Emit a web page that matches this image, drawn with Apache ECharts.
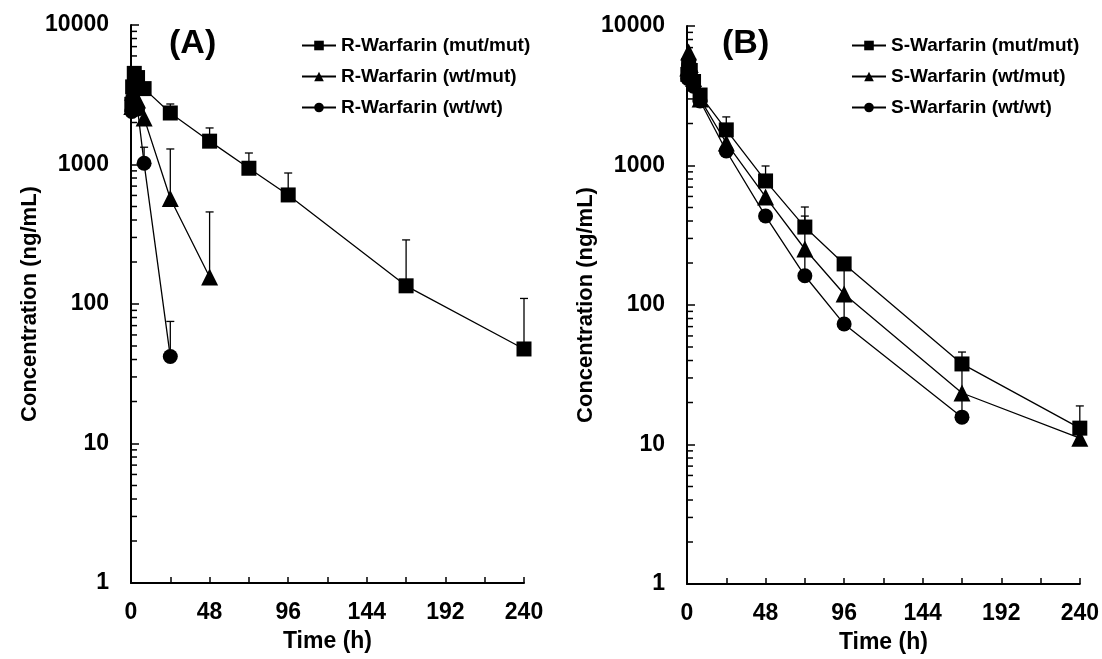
<!DOCTYPE html>
<html>
<head>
<meta charset="utf-8">
<script src="https://cdn.jsdelivr.net/npm/echarts@6/dist/echarts.min.js"></script>
<style>
  html, body { margin: 0; padding: 0; background: #fff; }
  #main { width: 1102px; height: 659px; }
</style>
</head>
<body>
<div id="main"></div>
<script>
// time points (h) and mean concentrations (ng/mL), upper SD for error bars
var rTimeMutMut = [0.5, 1, 2, 4, 8, 24, 48, 72, 96, 168, 240];
var rMutMut     = [2700, 3600, 4500, 4200, 3500, 2340, 1470, 940, 605, 135, 47.6];
var rMutMutSd   = [0, 0, 0, 0, 0, 375, 358, 269, 264, 153, 62];

var rTimeWtMut = [0.5, 1, 2, 4, 8, 24, 48];
var rWtMut     = [2600, 3300, 3900, 2900, 2150, 570, 156];
var rWtMutSd   = [0, 0, 0, 0, 0, 722, 301];

var rTimeWtWt = [0.5, 1, 2, 4, 8, 24];
var rWtWt     = [2400, 3000, 3400, 2500, 1020, 42];
var rWtWtSd   = [0, 0, 0, 0, 310, 33];

var sTimeMutMut = [0.5, 1, 2, 4, 8, 24, 48, 72, 96, 168, 240];
var sMutMut     = [4500, 5200, 4800, 4000, 3200, 1800, 775, 362, 197, 37.8, 13.1];
var sMutMutSd   = [0, 0, 0, 0, 0, 430, 217, 142, 0, 8.2, 5.8];

var sTimeWtMut = [0.5, 1, 2, 4, 8, 24, 48, 72, 96, 168, 240];
var sWtMut     = [5000, 6500, 5300, 4200, 3000, 1450, 595, 252, 120, 23.4, 11.1];
var sWtMutSd   = [0, 0, 0, 0, 0, 0, 0, 182, 70, 14, 0];

var sTimeWtWt = [0.5, 1, 2, 4, 8, 24, 48, 72, 96, 168];
var sWtWt     = [4200, 5200, 4600, 3700, 2900, 1270, 434, 162, 73, 15.7];
var sWtWtSd   = [0, 0, 0, 0, 0, 0, 0, 70, 40, 7];

var xTicks = [0, 48, 96, 144, 192, 240];
var yMinorTicks = [2, 3, 4, 5, 6, 7, 8, 9, 20, 30, 40, 50, 60, 70, 80, 90,
  200, 300, 400, 500, 600, 700, 800, 900, 2000, 3000, 4000, 5000, 6000, 7000, 8000, 9000];

var namesA = ['R-Warfarin (mut/mut)', 'R-Warfarin (wt/mut)', 'R-Warfarin (wt/wt)'];
var namesB = ['S-Warfarin (mut/mut)', 'S-Warfarin (wt/mut)', 'S-Warfarin (wt/wt)'];

var FONT = 'Liberation Sans, Arial, sans-serif';

function pairs(t, v) {
  return t.map(function (x, i) { return [x, v[i]]; });
}
function bars(t, v, sd) {
  var out = [];
  t.forEach(function (x, i) {
    if (sd[i] > 0) out.push([x, v[i], v[i] + sd[i]]);
  });
  return out;
}

var symbols = ['rect', 'triangle', 'circle'];
var symSizes = [15, 17, 15];

function lineSeries(name, data, k, gi) {
  return {
    name: name, type: 'line', xAxisIndex: gi, yAxisIndex: gi,
    data: data, symbol: symbols[k], symbolSize: symSizes[k],
    lineStyle: { color: '#000', width: 1.3 },
    itemStyle: { color: '#000' },
    z: 5 - k
  };
}

function errSeries(data, gi) {
  return {
    type: 'custom', xAxisIndex: gi, yAxisIndex: gi, silent: true, z: 1,
    data: data,
    renderItem: function (params, api) {
      var p = api.coord([api.value(0), api.value(1)]);
      var q = api.coord([api.value(0), api.value(2)]);
      return {
        type: 'group',
        children: [
          { type: 'line', shape: { x1: p[0], y1: p[1], x2: q[0], y2: q[1] }, style: { stroke: '#000', lineWidth: 1.3 } },
          { type: 'line', shape: { x1: q[0] - 4, y1: q[1], x2: q[0] + 4, y2: q[1] }, style: { stroke: '#000', lineWidth: 1.3 } }
        ]
      };
    }
  };
}

function minorTickSeries(gi) {
  return {
    type: 'custom', xAxisIndex: gi, yAxisIndex: gi, silent: true, z: 1,
    data: yMinorTicks.map(function (v) { return [0, v]; }),
    renderItem: function (params, api) {
      var p = api.coord([api.value(0), api.value(1)]);
      return { type: 'line', shape: { x1: p[0], y1: p[1], x2: p[0] + 6, y2: p[1] }, style: { stroke: '#000', lineWidth: 1.5 } };
    }
  };
}

function xAxis(gi) {
  return {
    type: 'value', gridIndex: gi, min: 0, max: 240, interval: 48,
    name: 'Time (h)', nameLocation: 'middle', nameGap: 47,
    nameTextStyle: { fontFamily: FONT, fontWeight: 'bold', fontSize: 23, color: '#000' },
    axisLine: { lineStyle: { color: '#000', width: 2 } },
    axisTick: { show: true, inside: true, length: 6, lineStyle: { color: '#000', width: 1.5 } },
    minorTick: { show: true, splitNumber: 2, length: 6, lineStyle: { color: '#000', width: 1.5 } },
    axisLabel: { margin: 18, fontFamily: FONT, fontWeight: 'bold', fontSize: 23, color: '#000',
      formatter: function (v) { return xTicks.indexOf(v) >= 0 ? String(v) : ''; } },
    splitLine: { show: false }
  };
}

function yAxis(gi) {
  return {
    type: 'log', gridIndex: gi, logBase: 10, min: 1, max: 10000,
    name: 'Concentration (ng/mL)', nameLocation: 'middle', nameGap: 90,
    nameTextStyle: { fontFamily: FONT, fontWeight: 'bold', fontSize: 22, color: '#000' },
    axisLine: { lineStyle: { color: '#000', width: 2 } },
    axisTick: { show: true, inside: true, length: 8, lineStyle: { color: '#000', width: 1.5 } },
    axisLabel: { margin: 22, fontFamily: FONT, fontWeight: 'bold', fontSize: 23, color: '#000',
      formatter: function (v) { return String(Math.round(v)); } },
    splitLine: { show: false }
  };
}

function legend(names, left) {
  return {
    data: names, orient: 'vertical', left: left, top: 31,
    itemWidth: 34, itemHeight: 12, itemGap: 12,
    textStyle: { fontFamily: FONT, fontWeight: 'bold', fontSize: 19, color: '#000' },
    selectedMode: false
  };
}

var chart = echarts.init(document.getElementById('main'));
chart.setOption({
  animation: false,
  backgroundColor: '#fff',
  title: [
    { text: '(A)', left: 164, top: 22, textStyle: { fontFamily: FONT, fontWeight: 'bold', fontSize: 34, color: '#000' } },
    { text: '(B)', left: 717, top: 22, textStyle: { fontFamily: FONT, fontWeight: 'bold', fontSize: 34, color: '#000' } }
  ],
  legend: [legend(namesA, 296), legend(namesB, 846)],
  grid: [
    { left: 131, top: 25, width: 393, height: 558 },
    { left: 687, top: 26, width: 394, height: 558 }
  ],
  xAxis: [xAxis(0), xAxis(1)],
  yAxis: [yAxis(0), yAxis(1)],
  series: [
    minorTickSeries(0),
    minorTickSeries(1),
    errSeries(bars(rTimeMutMut, rMutMut, rMutMutSd), 0),
    errSeries(bars(rTimeWtMut, rWtMut, rWtMutSd), 0),
    errSeries(bars(rTimeWtWt, rWtWt, rWtWtSd), 0),
    errSeries(bars(sTimeMutMut, sMutMut, sMutMutSd), 1),
    errSeries(bars(sTimeWtMut, sWtMut, sWtMutSd), 1),
    errSeries(bars(sTimeWtWt, sWtWt, sWtWtSd), 1),
    lineSeries(namesA[0], pairs(rTimeMutMut, rMutMut), 0, 0),
    lineSeries(namesA[1], pairs(rTimeWtMut, rWtMut), 1, 0),
    lineSeries(namesA[2], pairs(rTimeWtWt, rWtWt), 2, 0),
    lineSeries(namesB[0], pairs(sTimeMutMut, sMutMut), 0, 1),
    lineSeries(namesB[1], pairs(sTimeWtMut, sWtMut), 1, 1),
    lineSeries(namesB[2], pairs(sTimeWtWt, sWtWt), 2, 1)
  ]
});
</script>
</body>
</html>
